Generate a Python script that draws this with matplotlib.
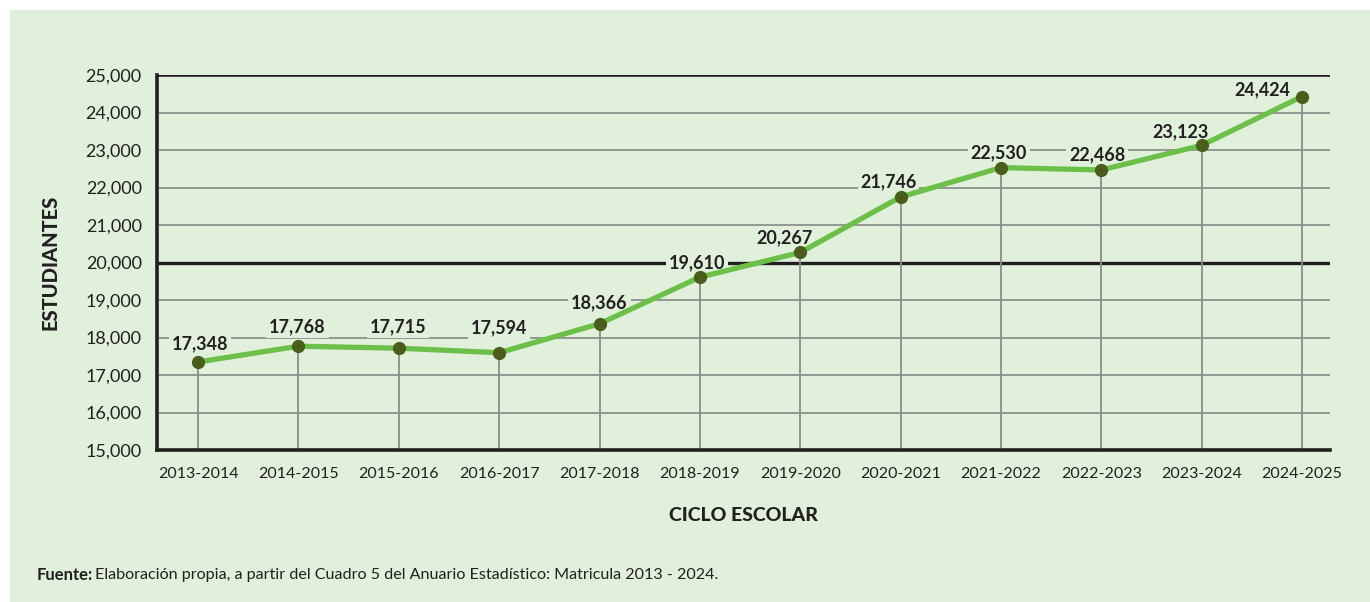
import matplotlib
matplotlib.use("Agg")
import matplotlib.pyplot as plt
from matplotlib.patches import Rectangle
from matplotlib.ticker import FuncFormatter

ciclos = ["2013-2014", "2014-2015", "2015-2016", "2016-2017", "2017-2018", "2018-2019",
          "2019-2020", "2020-2021", "2021-2022", "2022-2023", "2023-2024", "2024-2025"]
estudiantes = [17348, 17768, 17715, 17594, 18366, 19610, 20267, 21746, 22530, 22468, 23123, 24424]
y_ticks = [15000, 16000, 17000, 18000, 19000, 20000, 21000, 22000, 23000, 24000, 25000]

BG = "#e0f0da"
LINE_GREEN = "#6cc04a"
DOT_GREEN = "#4b5d1b"
TEXT = "#231f20"

plt.rcParams["font.family"] = ["Lato", "DejaVu Sans"]

fig = plt.figure(figsize=(13.7, 6.02), dpi=100)
fig.patch.set_facecolor("white")
fig.patches.append(Rectangle((10 / 1370, 0), 1 - 10 / 1370, 1 - 10 / 602,
                             transform=fig.transFigure, facecolor=BG, edgecolor="none", zorder=-10))

ax = fig.add_axes([157 / 1370, 1 - 450 / 602, (1330 - 157) / 1370, (450 - 75) / 602])
ax.set_facecolor(BG)
x = list(range(len(ciclos)))

for yv in y_ticks[1:-1]:
    heavy = yv == 20000
    ax.axhline(yv, color=TEXT if heavy else "#7f7f7f", lw=2.4 if heavy else 1.1, zorder=1)
ax.axhline(25000, color=TEXT, lw=2.6, zorder=1)

ax.vlines(x, 15000, estudiantes, color="#8c8c8c", lw=1.3, zorder=2)
ax.plot(x, estudiantes, color=LINE_GREEN, lw=3.8, zorder=3, solid_capstyle="round")
ax.plot(x, estudiantes, "o", color=DOT_GREEN, ms=8.5, zorder=4)

# label centre offsets in pixels relative to each marker
offsets = [(2, 19), (-1, 20), (-1, 22), (0, 26), (0, 22), (-3, 15), (-16, 16),
           (-12, 16), (-2, 16), (-4, 16), (-21, 15), (-40, 7.5)]
for xi, yi, (dx, dy) in zip(x, estudiantes, offsets):
    ax.annotate(f"{yi:,}", (xi, yi), xytext=(dx, dy - 6.5), textcoords="offset pixels",
                ha="center", va="baseline", fontsize=13, fontweight="bold", color=TEXT,
                bbox=dict(boxstyle="square,pad=0.15", facecolor=BG, edgecolor="none"), zorder=2.5)

ax.set_xlim(-0.41, 11.28)
ax.set_ylim(15000, 25000)
ax.set_xticks(x)
ax.set_xticklabels(ciclos)
ax.set_yticks(y_ticks)
ax.yaxis.set_major_formatter(FuncFormatter(lambda v, p: f"{int(v):,}"))
ax.tick_params(axis="both", length=0, colors=TEXT)
ax.tick_params(axis="y", pad=11, labelsize=13)
ax.tick_params(axis="x", pad=12, labelsize=11.5)

for side in ("top", "right"):
    ax.spines[side].set_visible(False)
for side in ("left", "bottom"):
    ax.spines[side].set_color(TEXT)
    ax.spines[side].set_linewidth(2.6)

ax.set_xlabel("CICLO ESCOLAR", fontsize=14, fontweight="black", color=TEXT, labelpad=19)
ax.set_ylabel("ESTUDIANTES", fontsize=14.5, fontweight="black", color=TEXT, labelpad=19)

fig.text(37 / 1370, 1 - 575 / 602, "Fuente:", fontsize=12, fontweight="bold", color=TEXT, va="center")
fig.text(95 / 1370, 1 - 575 / 602,
         "Elaboración propia, a partir del Cuadro 5 del Anuario Estadístico: Matricula 2013 - 2024.",
         fontsize=11.6, color=TEXT, va="center")

fig.savefig("out.png", dpi=100, facecolor=fig.get_facecolor())
plt.close(fig)
